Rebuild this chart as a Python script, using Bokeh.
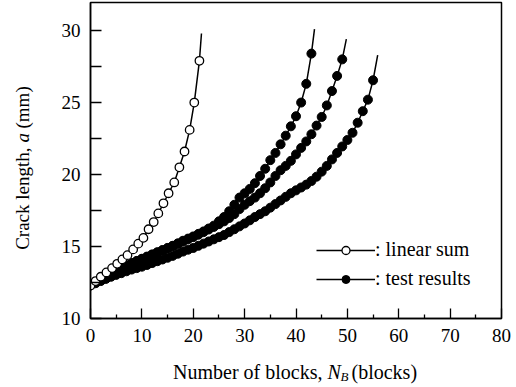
import math
from bokeh.plotting import figure
from bokeh.layouts import row, column
from bokeh.models import FixedTicker, Legend, LegendItem, Label, Range1d
from bokeh.embed import file_html
from bokeh.resources import INLINE

# ---- data ----
lin_x = [0, 1.0, 2.0, 3.1, 4.2, 5.2, 6.2, 7.2, 8.3, 9.3, 10.3, 11.3, 12.3, 13.2,
         14.2, 15.2, 16.3, 17.3, 18.3, 19.3, 20.2, 21.2]
lin_y = [12.3, 12.6, 12.9, 13.2, 13.5, 13.8, 14.1, 14.4, 14.8, 15.2, 15.6, 16.2,
         16.7, 17.3, 18.0, 18.7, 19.45, 20.5, 21.6, 23.1, 25.0, 27.9]
lin_tail = (21.6, 29.8)

t1_x = list(range(0, 44))
t1_y = [12.30, 12.52, 12.75, 12.95, 13.15, 13.33, 13.50, 13.68, 13.85, 14.00,
        14.15, 14.30, 14.45, 14.60, 14.75, 14.90, 15.05, 15.22, 15.40, 15.55,
        15.70, 15.88, 16.05, 16.25, 16.45, 16.75, 17.05, 17.45, 17.90, 18.40,
        18.70, 19.00, 19.40, 19.90, 20.40, 21.00, 21.50, 22.10, 22.70, 23.35,
        24.05, 25.00, 26.30, 28.40]
t1_tail = (43.6, 30.1)

t2_x = list(range(0, 50))
t2_y = [12.30, 12.52, 12.74, 12.94, 13.14, 13.32, 13.49, 13.66, 13.83, 13.98,
        14.13, 14.28, 14.43, 14.58, 14.73, 14.88, 15.03, 15.18, 15.34, 15.50,
        15.65, 15.82, 16.00, 16.18, 16.36, 16.55, 16.75, 16.98, 17.25, 17.60,
        17.90, 18.15, 18.40, 18.70, 19.05, 19.45, 19.90, 20.30, 20.60, 20.95,
        21.40, 21.85, 22.30, 22.80, 23.40, 24.00, 24.80, 25.80, 26.85, 28.00]
t2_tail = (49.8, 29.4)

t3_x = list(range(0, 56))
t3_y = [12.30, 12.45, 12.60, 12.75, 12.90, 13.03, 13.15, 13.28, 13.40, 13.50,
        13.60, 13.72, 13.85, 13.98, 14.10, 14.22, 14.35, 14.50, 14.65, 14.78,
        14.90, 15.05, 15.20, 15.35, 15.50, 15.65, 15.80, 16.00, 16.20, 16.40,
        16.60, 16.82, 17.05, 17.25, 17.45, 17.70, 17.95, 18.20, 18.45, 18.70,
        18.90, 19.10, 19.30, 19.55, 19.85, 20.20, 20.60, 21.05, 21.50, 21.95,
        22.40, 22.90, 23.60, 24.40, 25.20, 26.55]
t3_tail = (55.9, 28.3)

x_ticks = [0, 10, 20, 30, 40, 50, 60, 70, 80]
x_minor = [5, 15, 25, 35, 45, 55, 65, 75]
y_ticks = [10, 15, 20, 25, 30]
y_minor = [12.5, 17.5, 22.5, 27.5]

FONT = "Liberation Serif"

LEFT_W = 40      # width of the strip holding the y title
MAIN_H = 355     # height of the main plot (rest holds the x title)

p = figure(width=516 - LEFT_W, height=MAIN_H, output_backend="svg", toolbar_location=None,
           x_range=Range1d(0, 80), y_range=Range1d(10, 31.95),
           min_border_left=90 - LEFT_W, min_border_right=15, min_border_top=2,
           min_border_bottom=MAIN_H - 318)
p.grid.visible = False
p.outline_line_color = "black"
p.outline_line_width = 1.5

xa = p.xaxis[0]
ya = p.yaxis[0]
for ax in (xa, ya):
    ax.major_label_text_font = FONT
    ax.major_label_text_font_size = "19px"
    ax.major_label_text_color = "black"
    ax.major_label_standoff = 10
    ax.major_tick_out = 0
    ax.minor_tick_out = 0
    ax.axis_line_width = 1.5
    ax.major_tick_line_width = 1.3
    ax.minor_tick_line_width = 1.3

xa.ticker = FixedTicker(ticks=x_ticks, minor_ticks=x_minor)
xa.major_tick_in = 10
xa.minor_tick_in = 4
ya.ticker = FixedTicker(ticks=y_ticks, minor_ticks=y_minor)
ya.major_tick_in = 11
ya.minor_tick_in = 11

# test results
test_line = None
test_mark = None
for xs, ys, tail in ((t1_x, t1_y, t1_tail), (t2_x, t2_y, t2_tail), (t3_x, t3_y, t3_tail)):
    lr = p.line(xs + [tail[0]], ys + [tail[1]], line_color="black", line_width=1.5)
    mr = p.scatter(xs, ys, marker="circle", size=9, fill_color="black", line_color="black")
    test_line, test_mark = lr, mr

# linear sum
lin_line = p.line(lin_x + [lin_tail[0]], lin_y + [lin_tail[1]], line_color="black", line_width=1.5)
lin_mark = p.scatter(lin_x, lin_y, marker="circle", size=8.5, fill_color="white",
                     line_color="black", line_width=1.3)

legend = Legend(items=[LegendItem(label=": linear sum", renderers=[lin_line, lin_mark]),
                       LegendItem(label=": test results", renderers=[test_line, test_mark])],
                location=(226, 28), glyph_width=59, glyph_height=20, label_height=20,
                label_standoff=0, spacing=6, padding=0, margin=0,
                border_line_color=None, background_fill_alpha=0,
                label_text_font=FONT, label_text_font_size="20px",
                label_text_color="black")
p.add_layout(legend, "center")


def strip(w, h):
    f = figure(width=w, height=h, output_backend="svg", toolbar_location=None,
               x_range=Range1d(0, 1), y_range=Range1d(0, 1),
               x_axis_location=None, y_axis_location=None,
               min_border=0, min_border_left=0, min_border_right=0,
               min_border_top=0, min_border_bottom=0)
    f.grid.visible = False
    f.outline_line_color = None
    return f


def lab(f, x, y, text, style="normal", size="20px", align="left", angle=0.0):
    f.add_layout(Label(x=x, y=y, x_units="screen", y_units="screen", text=text,
                       text_font=FONT, text_font_size=size,
                       text_font_style=style, text_align=align, text_baseline="middle",
                       angle=angle, text_color="black"))


# x title strip (below the main plot)
xs_fig = strip(516 - LEFT_W, 387 - MAIN_H)
lab(xs_fig, 232, 16, "Number of blocks,", align="right")
lab(xs_fig, 237, 16, "N", style="italic")
lab(xs_fig, 250, 11, "B", style="italic", size="13px")
lab(xs_fig, 261, 16, "(blocks)")

# y title strip (left of the main plot), text reads upward
ys_fig = strip(LEFT_W, 387)
lab(ys_fig, 22, 240, "Crack length,", size="19px", align="right", angle=math.pi / 2)
lab(ys_fig, 22, 245, "a", style="italic", size="19px", angle=math.pi / 2)
lab(ys_fig, 22, 259, "(mm)", size="19px", angle=math.pi / 2)

layout = row(ys_fig, column(p, xs_fig, spacing=0), spacing=0)
open("out.html", "w").write(file_html(layout, INLINE))
